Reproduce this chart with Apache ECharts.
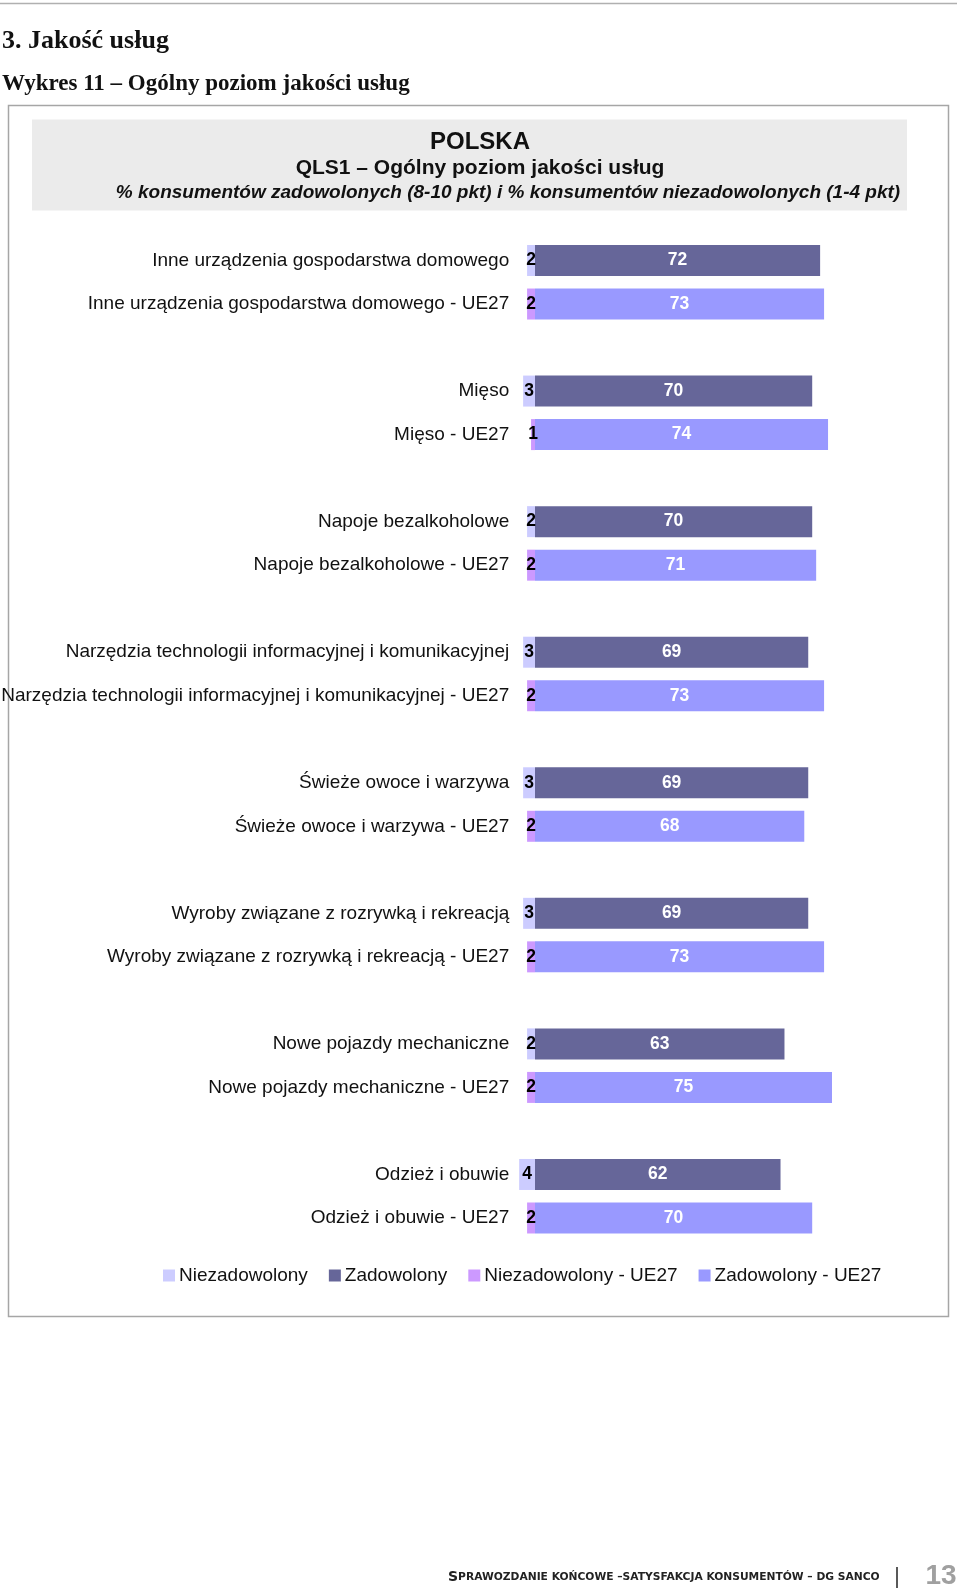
<!DOCTYPE html>
<html>
<head>
<meta charset="utf-8">
<script src="https://cdn.jsdelivr.net/npm/echarts@6/dist/echarts.min.js"></script>
<style>
html,body{margin:0;padding:0;background:#fff;}
#chart{width:960px;height:1588px;}
</style>
</head>
<body>
<div id="chart"></div>
<script>
// ---- data ----
const groups = [
  'Inne urządzenia gospodarstwa domowego',
  'Mięso',
  'Napoje bezalkoholowe',
  'Narzędzia technologii informacyjnej i komunikacyjnej',
  'Świeże owoce i warzywa',
  'Wyroby związane z rozrywką i rekreacją',
  'Nowe pojazdy mechaniczne',
  'Odzież i obuwie'
];
const euSuffix = ' - UE27';
const plUnsat = [2, 3, 2, 3, 3, 3, 2, 4];
const plSat   = [72, 70, 70, 69, 69, 69, 63, 62];
const euUnsat = [2, 1, 2, 2, 2, 2, 2, 2];
const euSat   = [73, 74, 71, 73, 68, 73, 75, 70];
const seriesNames = ['Niezadowolony', 'Zadowolony', 'Niezadowolony - UE27', 'Zadowolony - UE27'];
const colors = ['#ccccff', '#666699', '#cc99ff', '#9999ff'];

// ---- build category slots (PL row, UE27 row, spacer) ----
const cats = [];
const spacers = new Set();
const sPlU = [], sPlS = [], sEuU = [], sEuS = [];
groups.forEach((g, i) => {
  cats.push(g);            sPlU.push(-plUnsat[i]); sPlS.push(plSat[i]); sEuU.push(null); sEuS.push(null);
  cats.push(g + euSuffix); sPlU.push(null); sPlS.push(null); sEuU.push(-euUnsat[i]); sEuS.push(euSat[i]);
  if (i < groups.length - 1) {
    const sp = '\u200b'.repeat(i + 1);
    spacers.add(sp); cats.push(sp);
    sPlU.push(null); sPlS.push(null); sEuU.push(null); sEuS.push(null);
  }
});

const FONT = "'Liberation Sans', Arial, sans-serif";
const SERIF = "'Liberation Serif', 'DejaVu Serif', serif";

function barSeries(name, data, color, labelColor) {
  return {
    name: name, type: 'bar', stack: 'all', data: data, barWidth: 31,
    itemStyle: { color: color },
    label: {
      show: true, position: 'inside', color: labelColor,
      fontFamily: FONT, fontWeight: 'bold', fontSize: 17.5,
      formatter: p => (p.value == null ? '' : String(Math.abs(p.value)))
    },
    emphasis: { disabled: true }
  };
}

const chart = echarts.init(document.getElementById('chart'), null, { renderer: 'canvas' });
chart.setOption({
  animation: false,
  backgroundColor: '#fff',
  title: {
    text: '{a|S}{b|PRAWOZDANIE KOŃCOWE –SATYSFAKCJA KONSUMENTÓW – DG SANCO}',
    left: 448, top: 1570,
    padding: 0,
    textStyle: {
      rich: {
        a: { fontFamily: "'DejaVu Sans', sans-serif", fontSize: 14, color: '#222' },
        b: { fontFamily: "'DejaVu Sans', sans-serif", fontSize: 10.7, color: '#222' }
      }
    }
  },
  legend: {
    data: seriesNames,
    left: 158, top: 1261,
    icon: 'rect', itemWidth: 12, itemHeight: 12, itemGap: 21,
    textStyle: { fontFamily: FONT, fontSize: 19, color: '#111', padding: [0, 0, 0, -1] },
    selectedMode: false
  },
  grid: { left: 515.2, top: 238.75, width: 415.8, height: 1001, containLabel: false, outerBoundsMode: 'none' },
  xAxis: {
    type: 'value', min: -5, max: 100,
    show: false, splitLine: { show: false }
  },
  yAxis: {
    type: 'category', data: cats, inverse: true,
    axisLine: { show: false, onZero: false },
    axisTick: { show: false },
    axisLabel: {
      margin: 6, align: 'right', fontFamily: FONT, fontSize: 19, color: '#111',
      interval: 0, hideOverlap: false,
      formatter: v => (spacers.has(v) ? '' : v)
    }
  },
  series: [
    barSeries(seriesNames[0], sPlU, colors[0], '#000'),
    barSeries(seriesNames[1], sPlS, colors[1], '#fff'),
    barSeries(seriesNames[2], sEuU, colors[2], '#000'),
    barSeries(seriesNames[3], sEuS, colors[3], '#fff')
  ],
  graphic: [
    { type: 'line', silent: true, shape: { x1: 0, y1: 3.5, x2: 957, y2: 3.5 }, style: { stroke: '#b0b0b0', lineWidth: 1.5 } },
    { type: 'rect', silent: true, z: -10, shape: { x: 8.5, y: 105.5, width: 940, height: 1211 }, style: { fill: 'none', stroke: '#a6a6a6', lineWidth: 1.5 } },
    { type: 'rect', silent: true, z: -10, shape: { x: 32, y: 119.5, width: 875, height: 91 }, style: { fill: '#ebebeb' } },
    { type: 'text', silent: true, style: { text: '3. Jakość usług', x: 2, y: 41, font: 'bold 26px ' + SERIF, fill: '#111', textAlign: 'left', textVerticalAlign: 'middle' } },
    { type: 'text', silent: true, style: { text: 'Wykres 11 – Ogólny poziom jakości usług', x: 2, y: 84, font: 'bold 23px ' + SERIF, fill: '#111', textAlign: 'left', textVerticalAlign: 'middle' } },
    { type: 'text', silent: true, style: { text: 'POLSKA', x: 480, y: 142, font: 'bold 24px ' + FONT, fill: '#111', textAlign: 'center', textVerticalAlign: 'middle' } },
    { type: 'text', silent: true, style: { text: 'QLS1 – Ogólny poziom jakości usług', x: 480, y: 168, font: 'bold 21px ' + FONT, fill: '#111', textAlign: 'center', textVerticalAlign: 'middle' } },
    { type: 'text', silent: true, style: { text: '% konsumentów zadowolonych (8-10 pkt) i % konsumentów niezadowolonych (1-4 pkt)', x: 508, y: 192.5, font: 'italic bold 19px ' + FONT, fill: '#111', textAlign: 'center', textVerticalAlign: 'middle' } },
    { type: 'line', silent: true, shape: { x1: 897, y1: 1567, x2: 897, y2: 1588 }, style: { stroke: '#222', lineWidth: 1.5 } },
    { type: 'text', silent: true, style: { text: '13', x: 941, y: 1576, font: 'bold 28px ' + FONT, fill: '#a0a0a0', textAlign: 'center', textVerticalAlign: 'middle' } }
  ]
});
</script>
</body>
</html>
